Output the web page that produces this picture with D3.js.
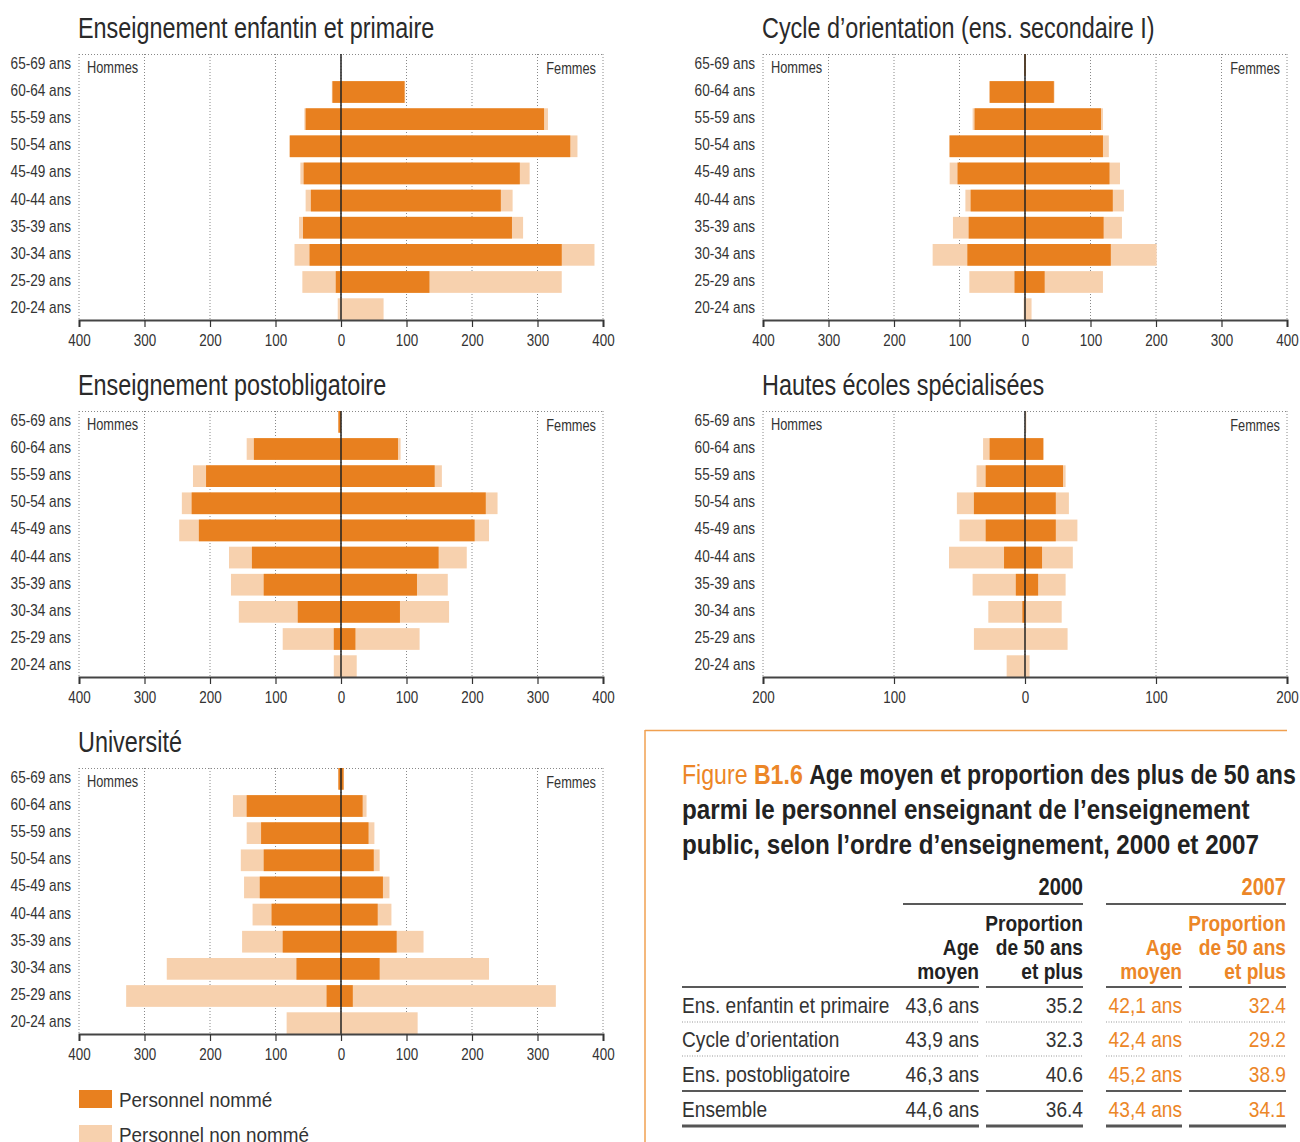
<!DOCTYPE html>
<html><head><meta charset="utf-8">
<script src="https://cdn.jsdelivr.net/npm/d3@7"></script>
<style>
html,body{margin:0;padding:0;background:#fff;}
svg text{font-family:"Liberation Sans",Arial,sans-serif;}
</style></head>
<body><svg id="c" width="1300" height="1142"></svg>
<script>
// ---------- DATA ----------
const ageGroups = ["65-69 ans","60-64 ans","55-59 ans","50-54 ans","45-49 ans","40-44 ans","35-39 ans","30-34 ans","25-29 ans","20-24 ans"];
const panelTitles = ["Enseignement enfantin et primaire","Cycle d’orientation (ens. secondaire I)","Enseignement postobligatoire","Hautes écoles spécialisées","Université"];
const panelMax = [400,400,400,200,400];
const ticks400 = [-400,-300,-200,-100,0,100,200,300,400];
const ticks200 = [-200,-100,0,100,200];

// primaire
const primMenNomme   = [0,13,54,78,57,46,58,48,8,0];
const primMenTotal   = [0,14,56,79,62,54,64,71,59,5];
const primWomenNomme = [0,97,310,350,273,244,261,337,135,0];
const primWomenTotal = [0,98,316,361,288,262,278,387,337,65];
// cycle d'orientation
const cycMenNomme    = [1,54,77,115,103,83,86,88,16,0];
const cycMenTotal    = [1,54,80,116,115,91,110,141,85,2];
const cycWomenNomme  = [1,44,116,119,129,134,120,131,30,0];
const cycWomenTotal  = [1,45,119,128,145,151,148,201,119,10];
// postobligatoire
const postMenNomme   = [4,133,206,228,217,136,118,66,11,0];
const postMenTotal   = [4,144,226,243,247,171,168,156,89,11];
const postWomenNomme = [0,87,143,221,204,149,116,90,22,0];
const postWomenTotal = [0,91,154,239,226,192,163,165,120,24];
// HES
const hesMenNomme    = [0,27,30,39,30,16,7,2,0,0];
const hesMenTotal    = [0,32,37,52,50,58,40,28,39,14];
const hesWomenNomme  = [0,14,29,23.5,23.5,13,10,0,0,0];
const hesWomenTotal  = [1,14,31,33.5,40,36.5,31,28,32.5,3.5];
// université
const uniMenNomme    = [4,144,122,118,124,106,89,68,22,0];
const uniMenTotal    = [4,165,144,153,148,135,151,266,328,83];
const uniWomenNomme  = [4,33,42,50,64,56,85,59,18,0];
const uniWomenTotal  = [4,39,51,59,74,77,126,226,328,117];

const legendLabels = ["Personnel nommé","Personnel non nommé"];

// table
const tableRows = ["Ens. enfantin et primaire","Cycle d’orientation","Ens. postobligatoire","Ensemble"];
const age2000  = [43.6,43.9,46.3,44.6];
const prop2000 = [35.2,32.3,40.6,36.4];
const age2007  = [42.1,42.4,45.2,43.4];
const prop2007 = [32.4,29.2,38.9,34.1];
const years = ["2000","2007"];

// ---------- STYLE ----------
const DARK = "#E8801F", LIGHT = "#F7D1AE", ORANGE_TXT = "#EC8627", TXT = "#333";
const svg = d3.select("#c");

// condensed text helper: horizontal compression emulates a condensed face
function txt(g, x, y, s, o = {}) {
  const t = g.append("text")
    .attr("transform", `translate(${x},${y}) scale(${o.sx || 0.87},1)`)
    .attr("font-size", o.size || 16)
    .attr("fill", o.fill || TXT)
    .attr("text-anchor", o.anchor || "start");
  if (o.weight) t.attr("font-weight", o.weight);
  if (s !== null) t.text(s);
  return t;
}

const panels = [
  {title:panelTitles[0], max:panelMax[0], ticks:ticks400, mn:primMenNomme, mt:primMenTotal, wn:primWomenNomme, wt:primWomenTotal, x0:79, x1:603, yTop:54},
  {title:panelTitles[1], max:panelMax[1], ticks:ticks400, mn:cycMenNomme, mt:cycMenTotal, wn:cycWomenNomme, wt:cycWomenTotal, x0:763, x1:1287, yTop:54},
  {title:panelTitles[2], max:panelMax[2], ticks:ticks400, mn:postMenNomme, mt:postMenTotal, wn:postWomenNomme, wt:postWomenTotal, x0:79, x1:603, yTop:411},
  {title:panelTitles[3], max:panelMax[3], ticks:ticks200, mn:hesMenNomme, mt:hesMenTotal, wn:hesWomenNomme, wt:hesWomenTotal, x0:763, x1:1287, yTop:411},
  {title:panelTitles[4], max:panelMax[4], ticks:ticks400, mn:uniMenNomme, mt:uniMenTotal, wn:uniWomenNomme, wt:uniWomenTotal, x0:79, x1:603, yTop:768},
];

panels.forEach(p => {
  const yAxis = p.yTop + 266;
  const g = svg.append("g");
  const x = d3.scaleLinear().domain([-p.max, p.max]).range([p.x0, p.x1]);
  const y = d3.scaleBand().domain(ageGroups).range([p.yTop, yAxis]).paddingInner(0.2).paddingOuter(0);

  // title
  txt(g, p.x0 - 1, p.yTop - 16, p.title, {size: 30, sx: 0.78, fill: "#2a2a2a"});

  // grid
  g.selectAll("line.grid").data(p.ticks).join("line")
    .attr("x1", d => x(d)).attr("x2", d => x(d))
    .attr("y1", p.yTop).attr("y2", yAxis)
    .attr("stroke", "#888").attr("stroke-width", 1).attr("stroke-dasharray", "1,2");
  g.append("line").attr("x1", p.x0).attr("x2", p.x1).attr("y1", p.yTop + 0.5).attr("y2", p.yTop + 0.5)
    .attr("stroke", "#888").attr("stroke-dasharray", "1,2");

  const idx = d3.range(ageGroups.length);
  // light (total)
  g.selectAll("rect.mt").data(idx).join("rect")
    .attr("x", i => x(-p.mt[i])).attr("width", i => x(0) - x(-p.mt[i]))
    .attr("y", i => y(ageGroups[i])).attr("height", y.bandwidth()).attr("fill", LIGHT);
  g.selectAll("rect.wt").data(idx).join("rect")
    .attr("x", x(0)).attr("width", i => x(p.wt[i]) - x(0))
    .attr("y", i => y(ageGroups[i])).attr("height", y.bandwidth()).attr("fill", LIGHT);
  // dark (nommé)
  g.selectAll("rect.mn").data(idx).join("rect")
    .attr("x", i => x(-p.mn[i])).attr("width", i => x(0) - x(-p.mn[i]))
    .attr("y", i => y(ageGroups[i])).attr("height", y.bandwidth()).attr("fill", DARK);
  g.selectAll("rect.wn").data(idx).join("rect")
    .attr("x", x(0)).attr("width", i => x(p.wn[i]) - x(0))
    .attr("y", i => y(ageGroups[i])).attr("height", y.bandwidth()).attr("fill", DARK);

  // zero line
  g.append("line").attr("x1", x(0)).attr("x2", x(0)).attr("y1", p.yTop).attr("y2", yAxis)
    .attr("stroke", "#222").attr("stroke-width", 1.5);

  // bottom axis
  const ax = g.append("g").attr("transform", `translate(0,${yAxis})`)
    .call(d3.axisBottom(x).tickValues(p.ticks).tickFormat(d => Math.abs(d)).tickSize(7).tickPadding(8));
  ax.select(".domain").attr("stroke", "#444").attr("stroke-width", 2);
  ax.selectAll(".tick line").attr("stroke", "#333").attr("stroke-width", 1.2);
  ax.selectAll(".tick text").attr("font-size", 16).attr("fill", TXT)
    .attr("transform", "scale(0.84,1)")
    .style("font-family", '"Liberation Sans",Arial,sans-serif');

  // age labels
  ageGroups.forEach(d => txt(g, p.x0 - 8, y(d) + y.bandwidth() / 2 + 4, d, {size: 16, sx: 0.85, anchor: "end"}));

  txt(g, p.x0 + 8, p.yTop + 19, "Hommes", {size: 16, sx: 0.8});
  txt(g, p.x1 - 7, p.yTop + 20, "Femmes", {size: 16, sx: 0.8, anchor: "end"});
});

// legend
const lg = svg.append("g");
[DARK, LIGHT].forEach((c, i) => {
  lg.append("rect").attr("x", 79).attr("y", 1090 + i * 35).attr("width", 33).attr("height", 18).attr("fill", c);
  txt(lg, 119, 1107 + i * 35, legendLabels[i], {size: 21, sx: 0.9});
});

// frame
svg.append("line").attr("x1", 645).attr("x2", 645).attr("y1", 730).attr("y2", 1142).attr("stroke", "#F0A050").attr("stroke-width", 1.5);
svg.append("line").attr("x1", 645).attr("x2", 1287).attr("y1", 730.5).attr("y2", 730.5).attr("stroke", "#F0A050").attr("stroke-width", 1.5);

// caption
const cap = txt(svg, 682, 784, null, {size: 28, sx: 0.826, fill: "#222"});
cap.append("tspan").attr("fill", ORANGE_TXT).text("Figure ");
cap.append("tspan").attr("fill", ORANGE_TXT).attr("font-weight", "bold").text("B1.6 ");
cap.append("tspan").attr("font-weight", "bold").text("Age moyen et proportion des plus de 50 ans");
txt(svg, 682, 819, "parmi le personnel enseignant de l’enseignement", {size: 28, sx: 0.865, weight: "bold", fill: "#222"});
txt(svg, 682, 854, "public, selon l’ordre d’enseignement, 2000 et 2007", {size: 28, sx: 0.865, weight: "bold", fill: "#222"});

// table
const T = svg.append("g");
const colRight = [979, 1083, 1182, 1286];
const colLeft  = [682, 986, 1106, 1189];
const fmtAge = v => d3.format(".1f")(v).replace(".", ",") + " ans";
const fmtProp = d3.format(".1f");

// years
[[1083, 903, years[0], "#222"], [1286, 1106, years[1], ORANGE_TXT]].forEach(([r, l, t, c]) => {
  txt(T, r, 895, t, {size: 23, sx: 0.87, weight: "bold", fill: c, anchor: "end"});
  T.append("line").attr("x1", l).attr("x2", r).attr("y1", 904).attr("y2", 904).attr("stroke", "#222").attr("stroke-width", 1.5);
});
// headers
const headAge = ["Age", "moyen"], headProp = ["Proportion", "de 50 ans", "et plus"];
[[0, "#222"], [2, ORANGE_TXT]].forEach(([ci, c]) => {
  headAge.forEach((t, k) => txt(T, colRight[ci], 955 + k * 24, t, {size: 22, sx: 0.87, weight: "bold", fill: c, anchor: "end"}));
});
[[1, "#222"], [3, ORANGE_TXT]].forEach(([ci, c]) => {
  headProp.forEach((t, k) => txt(T, colRight[ci], 931 + k * 24, t, {size: 22, sx: 0.87, weight: "bold", fill: c, anchor: "end"}));
});
const rule = (yy, style) => colLeft.forEach((l, i) => {
  const ln = T.append("line").attr("x1", l).attr("x2", colRight[i]).attr("y1", yy).attr("y2", yy);
  if (style === "dot") ln.attr("stroke", "#999").attr("stroke-width", 1).attr("stroke-dasharray", "1,1.5");
  else if (style === "thick") ln.attr("stroke", "#555").attr("stroke-width", 3);
  else ln.attr("stroke", "#222").attr("stroke-width", 1.5);
});
rule(987, "solid");
const rowBase = [1013, 1047, 1082, 1117];
const rowRule = [[1022, "dot"], [1056, "dot"], [1091, "solid"], [1126, "thick"]];
tableRows.forEach((r, i) => {
  const yy = rowBase[i];
  txt(T, 682, yy, r, {size: 22, sx: 0.87});
  txt(T, colRight[0], yy, fmtAge(age2000[i]), {size: 22, sx: 0.87, anchor: "end"});
  txt(T, colRight[1], yy, fmtProp(prop2000[i]), {size: 22, sx: 0.87, anchor: "end"});
  txt(T, colRight[2], yy, fmtAge(age2007[i]), {size: 22, sx: 0.87, anchor: "end", fill: ORANGE_TXT});
  txt(T, colRight[3], yy, fmtProp(prop2007[i]), {size: 22, sx: 0.87, anchor: "end", fill: ORANGE_TXT});
  rule(rowRule[i][0], rowRule[i][1]);
});
</script></body></html>
